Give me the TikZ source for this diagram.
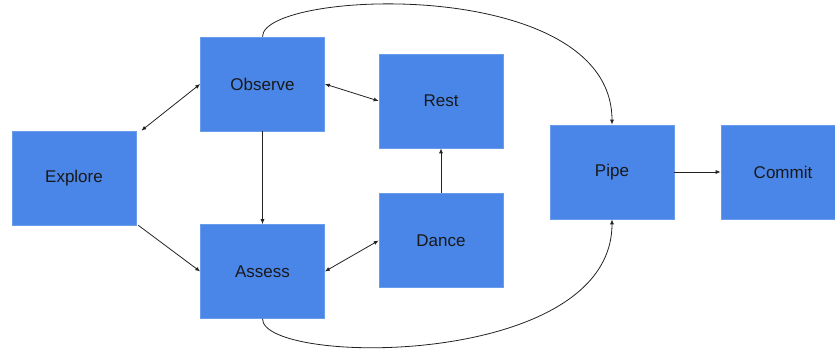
\documentclass[tikz,border=0pt]{standalone}
\usepackage{fontspec}
\setmainfont{Liberation Sans}
\usetikzlibrary{arrows.meta}
\definecolor{boxblue}{HTML}{4A86E8}
\definecolor{boxedge}{HTML}{6A9CEC}
\definecolor{linegray}{HTML}{222222}

\begin{document}
\begin{tikzpicture}[x=1pt,y=-1pt,
        box/.style={fill=boxblue, draw=boxedge, line width=0.6pt, minimum width=124pt, minimum height=94pt, inner sep=0pt, font=\fontsize{17}{20}\selectfont, text=black!90},
        link/.style={draw=linegray, line width=0.8pt, -{Latex[length=5pt,width=4pt]}},
        twolink/.style={draw=linegray, line width=0.8pt, {Latex[length=5pt,width=4pt]}-{Latex[length=5pt,width=4pt]}}]
        \useasboundingbox (0,0) rectangle (835,351);
        \node[box] (explore) at (74,178) {Explore};
        \node[box] (observe) at (262.5,84) {Observe};
        \node[box] (assess) at (262.5,271.5) {Assess};
        \node[box] (rest) at (441,101) {Rest};
        \node[box] (dance) at (441,240.5) {Dance};
        \node[box] (pipe) at (612,172) {Pipe};
        \node[box] (commit) at (783,172) {Commit};
        \draw[twolink] ([xshift=5pt]explore.north east) -- (observe.west);
        \draw[link] ([xshift=2pt]explore.south east) -- (assess.west);
        \draw[link] (observe.south) -- (assess.north);
        \draw[twolink] (observe.east) -- (rest.west);
        \draw[twolink] (assess.east) -- (dance.west);
        \draw[link] (dance.north) -- (rest.south);
        \draw[link] (pipe.east) -- (commit.west);
        \draw[link] (observe.north) .. controls +(0,-47) and +(0,-150) .. (pipe.north);
        \draw[link] (assess.south) .. controls +(0,47) and +(0,150) .. (pipe.south);
    \end{tikzpicture}
\end{document}
